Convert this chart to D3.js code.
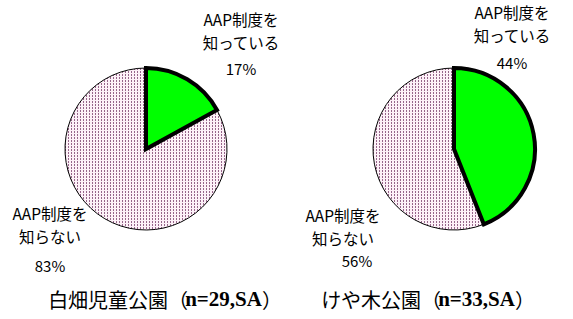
<!DOCTYPE html>
<html>
<head>
<meta charset="utf-8">
<script src="https://cdn.jsdelivr.net/npm/d3@7"></script>
<style>
  body { margin: 0; background: #fff; }
  svg { display: block; }
</style>
</head>
<body>
<script>
// AAP awareness, two parks
var parks = ["白畑児童公園", "けや木公園"];
var sampleN = [29, 33];
var categories = ["AAP制度を知っている", "AAP制度を知らない"];
var knowPct = [17, 44];
var dontKnowPct = [83, 56];

var width = 573, height = 319;
var radius = 81;
var centers = [[146, 149], [454, 149]];

var svg = d3.select("body").append("svg")
  .attr("width", width)
  .attr("height", height);

// dotted pink fill
var pat = svg.append("defs").append("pattern")
  .attr("id", "dots")
  .attr("patternUnits", "userSpaceOnUse")
  .attr("width", 3).attr("height", 3);
pat.append("rect").attr("width", 3).attr("height", 3).attr("fill", "#fdf1f8");
pat.append("rect").attr("x", 0).attr("y", 0).attr("width", 1).attr("height", 2).attr("fill", "#96668a");

var pie = d3.pie().sort(null).value(function(d){ return d; });
var arc = d3.arc().innerRadius(0).outerRadius(radius);

var fills = ["#00ff00", "url(#dots)"];

// label layout: [x, y] for first line of each category, per park
var labelPos = [
  [[241, 19], [50, 213]],
  [[512, 12], [343, 215]]
];
var pctPos = [
  [[241, 68], [50, 265]],
  [[512, 62], [357, 260]]
];

var font = "'Noto Sans CJK JP', 'Noto Sans', sans-serif";

parks.forEach(function(name, p) {
  var vals = [knowPct[p], dontKnowPct[p]];
  var g = svg.append("g")
    .attr("transform", "translate(" + centers[p][0] + "," + centers[p][1] + ")");

  var slices = pie(vals);

  // patterned slice under, green slice on top with heavy border
  g.append("path")
    .attr("d", arc(slices[1]))
    .attr("fill", fills[1])
    .attr("stroke", "#000")
    .attr("stroke-width", 1);

  g.append("path")
    .attr("d", arc(slices[0]))
    .attr("fill", fills[0])
    .attr("stroke", "#000")
    .attr("stroke-width", 4)
    .attr("stroke-linejoin", "miter");

  categories.forEach(function(cat, c) {
    var lines = [cat.slice(0, 6), cat.slice(6)];
    var t = svg.append("text")
      .attr("x", labelPos[p][c][0])
      .attr("y", labelPos[p][c][1])
      .attr("text-anchor", "middle")
      .attr("dominant-baseline", "central")
      .style("font-family", font)
      .style("font-size", "15.5px")
      .attr("fill", "#000");
    lines.forEach(function(l, i) {
      t.append("tspan")
        .attr("x", labelPos[p][c][0])
        .attr("dy", i === 0 ? 0 : 23)
        .text(l);
    });
    svg.append("text")
      .attr("x", pctPos[p][c][0])
      .attr("y", pctPos[p][c][1])
      .attr("text-anchor", "middle")
      .attr("dominant-baseline", "central")
      .style("font-family", font)
      .style("font-size", "15px")
      .text(vals[c] + "%");
  });

  // title under each pie
  var title = svg.append("text")
    .attr("x", p === 0 ? 165 : 428)
    .attr("y", 299)
    .attr("text-anchor", "middle")
    .attr("dominant-baseline", "central")
    .style("font-family", font)
    .style("font-size", "20px");
  title.append("tspan").text(name + "（");
  title.append("tspan")
    .attr("dx", -3)
    .style("font-family", "'Liberation Serif', serif")
    .style("font-weight", "bold")
    .style("font-size", "21px")
    .text("n=" + sampleN[p] + ",SA");
  title.append("tspan").text("）");
});
</script>
</body>
</html>
